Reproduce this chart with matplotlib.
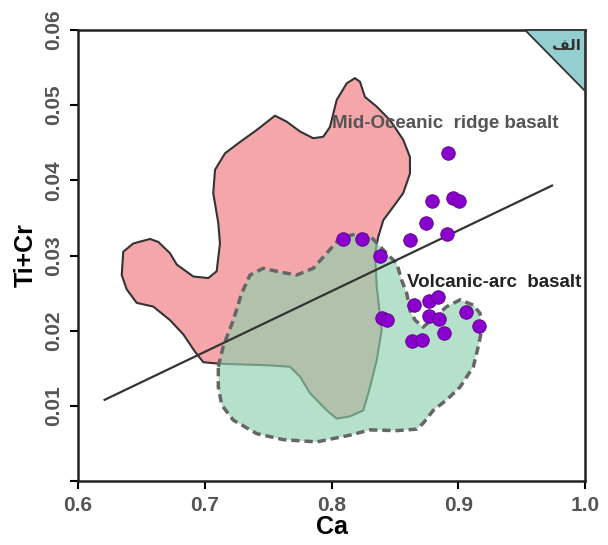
import matplotlib.pyplot as plt
import numpy as np

# Mid-oceanic ridge basalt field (Ca, Ti+Cr)
morb_ca = [0.6345, 0.6357, 0.6436, 0.6568, 0.6634, 0.6726, 0.6779, 0.6910, 0.7028, 0.7094,
           0.7120, 0.7107, 0.7067, 0.7081, 0.7160, 0.7278, 0.7410, 0.7554, 0.7647, 0.7751,
           0.7856, 0.7935, 0.7988, 0.8041, 0.8120, 0.8185, 0.8225, 0.8264, 0.8357, 0.8462,
           0.8566, 0.8619, 0.8619, 0.8566, 0.8488, 0.8409, 0.8369, 0.8343, 0.8357, 0.8396,
           0.8357, 0.8304, 0.8251, 0.8146, 0.8041, 0.7962, 0.7830, 0.7751, 0.7673, 0.7489,
           0.7120, 0.6989, 0.6923, 0.6831, 0.6726, 0.6594, 0.6463, 0.6384]
morb_ticr = [0.0274, 0.0305, 0.0316, 0.0322, 0.0318, 0.0303, 0.0288, 0.0272, 0.0270, 0.0279,
             0.0316, 0.0343, 0.0383, 0.0414, 0.0436, 0.0451, 0.0467, 0.0486, 0.0478, 0.0465,
             0.0456, 0.0458, 0.0471, 0.0507, 0.0529, 0.0536, 0.0531, 0.0511, 0.0498, 0.0480,
             0.0454, 0.0431, 0.0409, 0.0383, 0.0365, 0.0347, 0.0325, 0.0303, 0.0258, 0.0201,
             0.0161, 0.0125, 0.0094, 0.0086, 0.0083, 0.0094, 0.0117, 0.0139, 0.0152, 0.0154,
             0.0156, 0.0158, 0.0172, 0.0195, 0.0214, 0.0232, 0.0237, 0.0255]

# Volcanic-arc basalt field
vab_ca = [0.7107, 0.7146, 0.7225, 0.7292, 0.7357, 0.7462, 0.7594, 0.7725, 0.7856, 0.7962,
          0.8067, 0.8199, 0.8304, 0.8383, 0.8475, 0.8514, 0.8554, 0.8593, 0.8619, 0.8659,
          0.8724, 0.8909, 0.9014, 0.9119, 0.9172, 0.9185, 0.9158, 0.9119, 0.9014, 0.8909,
          0.8803, 0.8724, 0.8672, 0.8514, 0.8304, 0.8146, 0.7883, 0.7620, 0.7410, 0.7225,
          0.7134, 0.7107]
vab_ticr = [0.0152, 0.0179, 0.0214, 0.0250, 0.0274, 0.0283, 0.0278, 0.0274, 0.0283, 0.0303,
            0.0323, 0.0329, 0.0326, 0.0312, 0.0296, 0.0290, 0.0267, 0.0250, 0.0227, 0.0214,
            0.0205, 0.0232, 0.0241, 0.0234, 0.0223, 0.0201, 0.0179, 0.0152, 0.0125, 0.0108,
            0.0094, 0.0077, 0.0069, 0.0067, 0.0068, 0.0061, 0.0052, 0.0055, 0.0063, 0.0081,
            0.0101, 0.0125]

# corner field (الف)
corner_ca = [0.9527, 1.0, 1.0]
corner_ticr = [0.06, 0.06, 0.0519]

# dividing line
line_ca = [0.621, 0.974]
line_ticr = [0.0108, 0.0393]

# samples
sample_ca = [0.8917, 0.8793, 0.8956, 0.9003, 0.8746, 0.8909, 0.8619, 0.8093, 0.8243, 0.8383,
             0.8651, 0.8769, 0.8840, 0.9061, 0.9161, 0.8772, 0.8851, 0.8888, 0.8398, 0.8440,
             0.8633, 0.8714]
sample_ticr = [0.0437, 0.0373, 0.0377, 0.0372, 0.0343, 0.0328, 0.0320, 0.0322, 0.0322, 0.0300,
               0.0234, 0.0240, 0.0245, 0.0225, 0.0206, 0.0220, 0.0216, 0.0197, 0.0217, 0.0214,
               0.0186, 0.0187]

xticks = [0.6, 0.7, 0.8, 0.9, 1.0]
xticklabels = ["0.6", "0.7", "0.8", "0.9", "1.0"]
yticks = [0.0, 0.01, 0.02, 0.03, 0.04, 0.05, 0.06]
yticklabels = ["", "0.01", "0.02", "0.03", "0.04", "0.05", "0.06"]

plt.rcParams["font.family"] = ["Liberation Sans", "DejaVu Sans"]

fig = plt.figure(figsize=(6.08, 5.45), dpi=100)
ax = fig.add_axes([78 / 608, 64 / 545, 507 / 608, 451 / 545])

ax.fill(morb_ca, morb_ticr, facecolor="#f5a6aa", edgecolor="#333333", lw=1.5,
        joinstyle="round", zorder=1)
ax.fill(vab_ca, vab_ticr, facecolor="#8ed1ae", alpha=0.65, edgecolor="none", zorder=2)
ax.fill(vab_ca, vab_ticr, facecolor="none", edgecolor="#666666", lw=2.5,
        linestyle=(0, (2.4, 1.4)), zorder=3)
ax.fill(corner_ca, corner_ticr, facecolor="#93cfd0", edgecolor="#333333", lw=1.3,
        zorder=3, clip_on=False)
ax.text(0.985, 0.0580, "\uFED2\uFEDF\u0627", ha="center", va="center", fontsize=11,
        fontweight="bold", family="DejaVu Sans", color="#333333", zorder=6)

ax.plot(line_ca, line_ticr, color="#333333", lw=1.6, zorder=4)
ax.scatter(sample_ca, sample_ticr, s=95, c="#8a00cc", edgecolors="#5a0088",
           linewidths=0.6, zorder=5)

ax.text(0.8005, 0.0476, "Mid-Oceanic  ridge basalt", fontsize=13.5, fontweight="bold",
        color="#555555", va="center", zorder=6)
ax.text(0.8596, 0.0264, "Volcanic-arc  basalt", fontsize=13.5, fontweight="bold",
        color="#222222", va="center", zorder=6)

ax.set_xlim(0.6, 1.0)
ax.set_ylim(0.0, 0.06)
ax.set_xticks(xticks)
ax.set_xticklabels(xticklabels)
ax.set_yticks(yticks)
ax.set_yticklabels(yticklabels)
plt.setp(ax.get_yticklabels(), rotation=90, va="center")
ax.tick_params(direction="out", length=6, width=1.5, labelsize=15,
               labelcolor="#555555", pad=5)
for lab in ax.get_xticklabels() + ax.get_yticklabels():
    lab.set_fontweight("bold")
for sp in ax.spines.values():
    sp.set_linewidth(1.8)
    sp.set_color("#222222")

ax.set_xlabel("Ca", fontsize=18, fontweight="bold", labelpad=0)
ax.set_ylabel("Ti+Cr", fontsize=18, fontweight="bold", labelpad=4)

fig.savefig("out.png", dpi=100)
